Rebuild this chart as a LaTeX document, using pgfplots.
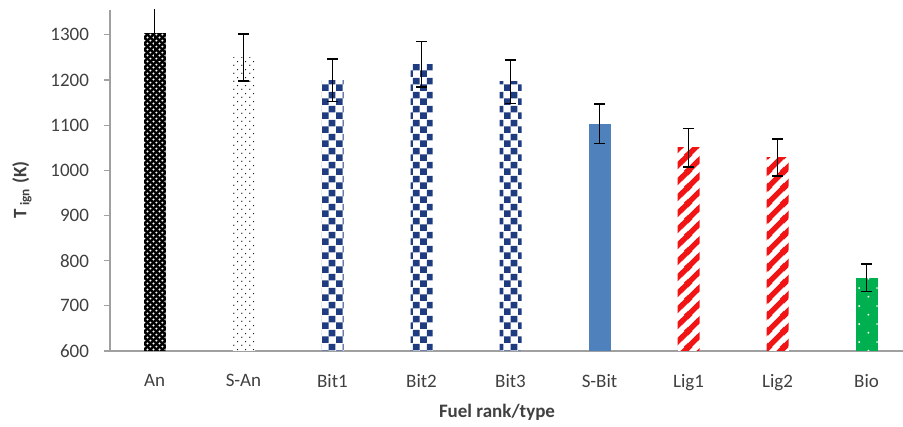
\documentclass[border=0pt]{standalone}
\usepackage{fontspec}
\setmainfont{Carlito}
\usepackage{pgfplots}
\pgfplotsset{compat=1.18}
\usetikzlibrary{patterns.meta}

\definecolor{checkblue}{RGB}{31,60,128}
\definecolor{sbitblue}{RGB}{79,129,189}
\definecolor{ligred}{RGB}{240,20,20}
\definecolor{biogreen}{RGB}{0,176,80}
\definecolor{axgray}{RGB}{160,160,160}
\definecolor{txtgray}{RGB}{64,64,64}

\tikzdeclarepattern{name=whitedots, type=uncolored,
  bottom left={(0pt,0pt)}, top right={(3.2pt,3.2pt)}, tile size={(3.2pt,3.2pt)},
  code={\fill (0.8pt,0.8pt) circle (0.6pt); \fill (2.4pt,2.4pt) circle (0.6pt);}}
\tikzdeclarepattern{name=sparsedots, type=uncolored,
  bottom left={(0pt,0pt)}, top right={(4pt,4pt)}, tile size={(4pt,4pt)},
  code={\fill (1pt,1pt) circle (0.35pt); \fill (3pt,3pt) circle (0.35pt);}}
\tikzdeclarepattern{name=bigcheck, type=uncolored,
  bottom left={(0pt,0pt)}, top right={(7pt,7pt)}, tile size={(7pt,7pt)},
  code={\fill (0pt,0pt) rectangle (3.5pt,3.5pt); \fill (3.5pt,3.5pt) rectangle (7pt,7pt);}}
\tikzdeclarepattern{name=thickstripes, type=uncolored,
  bottom left={(0pt,0pt)}, top right={(8pt,8pt)}, tile size={(8pt,8pt)},
  code={\draw[line width=2.8pt] (-1pt,-1pt)--(9pt,9pt);
        \draw[line width=2.8pt] (-2pt,6pt)--(2pt,10pt);
        \draw[line width=2.8pt] (6pt,-2pt)--(10pt,2pt);}}
\tikzdeclarepattern{name=greendots, type=uncolored,
  bottom left={(0pt,0pt)}, top right={(9pt,9pt)}, tile size={(9pt,9pt)},
  code={\fill (2.25pt,2.25pt) circle (0.55pt); \fill (6.75pt,6.75pt) circle (0.55pt);}}

\begin{document}
\begin{tikzpicture}
\path[use as bounding box] (-55pt,-38pt) rectangle (396.5pt,175.5pt);
\begin{axis}[
  at={(0pt,0pt)}, anchor=south west,
  scale only axis, width=396.5pt, height=170.5pt,
  xmin=-0.5, xmax=8.41, ymin=600, ymax=1355,
  axis x line*=bottom, axis y line*=left,
  axis line style={-, axgray, line width=0.6pt},
  xtick={0,...,8},
  xticklabels={An,S-An,Bit1,Bit2,Bit3,S-Bit,Lig1,Lig2,Bio},
  ytick={600,700,...,1300},
  x tick style={draw=none},
  y tick style={axgray, line width=0.6pt},
  tick align=outside, major tick length=3pt,
  /pgf/number format/assume math mode=true,
  /pgf/number format/1000 sep={},
  tick label style={font=\fontsize{9.5}{11}\selectfont, text=txtgray},
  xticklabel style={yshift=-5pt},
  yticklabel style={xshift=-4pt},
  ylabel={\textbf{T\,\textsubscript{ign} (K)}},
  xlabel={\textbf{Fuel rank/type}},
  label style={font=\fontsize{9.5}{11}\selectfont, text=txtgray},
  ylabel style={at={(axis description cs:-0.111,0.472)}, anchor=center},
  xlabel style={at={(axis description cs:0.488,-0.179)}, anchor=center},
  ybar, bar width=11pt, bar shift=0pt,
  every axis plot/.append style={draw=none},
  error bars/y dir=both, error bars/y explicit,
  error bars/error bar style={black, line width=0.8pt},
  error bars/error mark options={black, rotate=90, mark size=2.6pt, line width=0.8pt},
]
\addplot[fill=black, postaction={pattern=whitedots, pattern color=white}] coordinates {(0,1305) +- (0,62)};
\addplot[fill=white, postaction={pattern=sparsedots, pattern color=black}] coordinates {(1,1250) +- (0,52)};
\addplot[fill=white, postaction={pattern=bigcheck, pattern color=checkblue}] coordinates {(2,1199) +- (0,47)};
\addplot[fill=white, postaction={pattern=bigcheck, pattern color=checkblue}] coordinates {(3,1235) +- (0,50)};
\addplot[fill=white, postaction={pattern=bigcheck, pattern color=checkblue}] coordinates {(4,1196) +- (0,48)};
\addplot[fill=sbitblue] coordinates {(5,1103) +- (0,44)};
\addplot[fill=white, postaction={pattern=thickstripes, pattern color=ligred}] coordinates {(6,1050) +- (0,43)};
\addplot[fill=white, postaction={pattern=thickstripes, pattern color=ligred}] coordinates {(7,1029) +- (0,41)};
\addplot[fill=biogreen, postaction={pattern=greendots, pattern color=white}] coordinates {(8,762) +- (0,30)};
\end{axis}
\end{tikzpicture}
\end{document}
